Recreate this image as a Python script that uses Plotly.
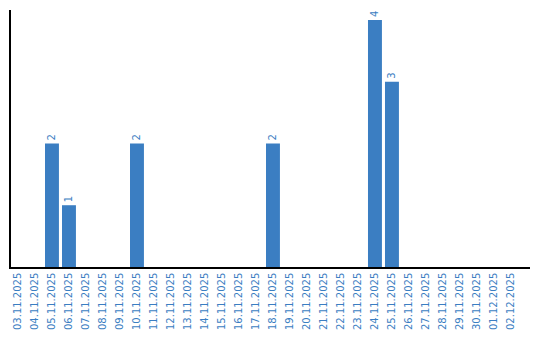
import plotly.graph_objects as go

dates = ["03.11.2025","04.11.2025","05.11.2025","06.11.2025","07.11.2025","08.11.2025",
         "09.11.2025","10.11.2025","11.11.2025","12.11.2025","13.11.2025","14.11.2025",
         "15.11.2025","16.11.2025","17.11.2025","18.11.2025","19.11.2025","20.11.2025",
         "21.11.2025","22.11.2025","23.11.2025","24.11.2025","25.11.2025","26.11.2025",
         "27.11.2025","28.11.2025","29.11.2025","30.11.2025","01.12.2025","02.12.2025"]
counts = [0,0,2,1,0,0,0,2,0,0,0,0,0,0,0,2,0,0,0,0,0,4,3,0,0,0,0,0,0,0]
labels = [str(v) if v > 0 else "" for v in counts]

color = "#3b7ec2"
fig = go.Figure(go.Bar(
    x=list(range(len(dates))), y=counts, text=labels,
    textposition="outside", textangle=-90,
    textfont=dict(family="DejaVu Sans", size=10, color=color),
    marker=dict(color=color, line=dict(width=0)),
    cliponaxis=False,
))
fig.update_layout(
    width=540, height=340,
    margin=dict(l=11, r=10, t=10, b=69),
    plot_bgcolor="white", paper_bgcolor="white",
    bargap=0.18, showlegend=False,
    font=dict(family="DejaVu Sans", size=10, color=color),
)
fig.update_xaxes(
    tickmode="array", tickvals=list(range(len(dates))), ticktext=dates,
    tickangle=-90, range=[-0.41, 30.12],
    showline=True, linecolor="black", linewidth=1.5, showgrid=False,
    ticks="", tickfont=dict(family="DejaVu Sans", size=10, color=color),
)
fig.update_yaxes(
    range=[0, 4.16], showline=True, linecolor="black", linewidth=1.5,
    showgrid=False, showticklabels=False, ticks="", zeroline=False,
)
fig.write_html("out.html")
